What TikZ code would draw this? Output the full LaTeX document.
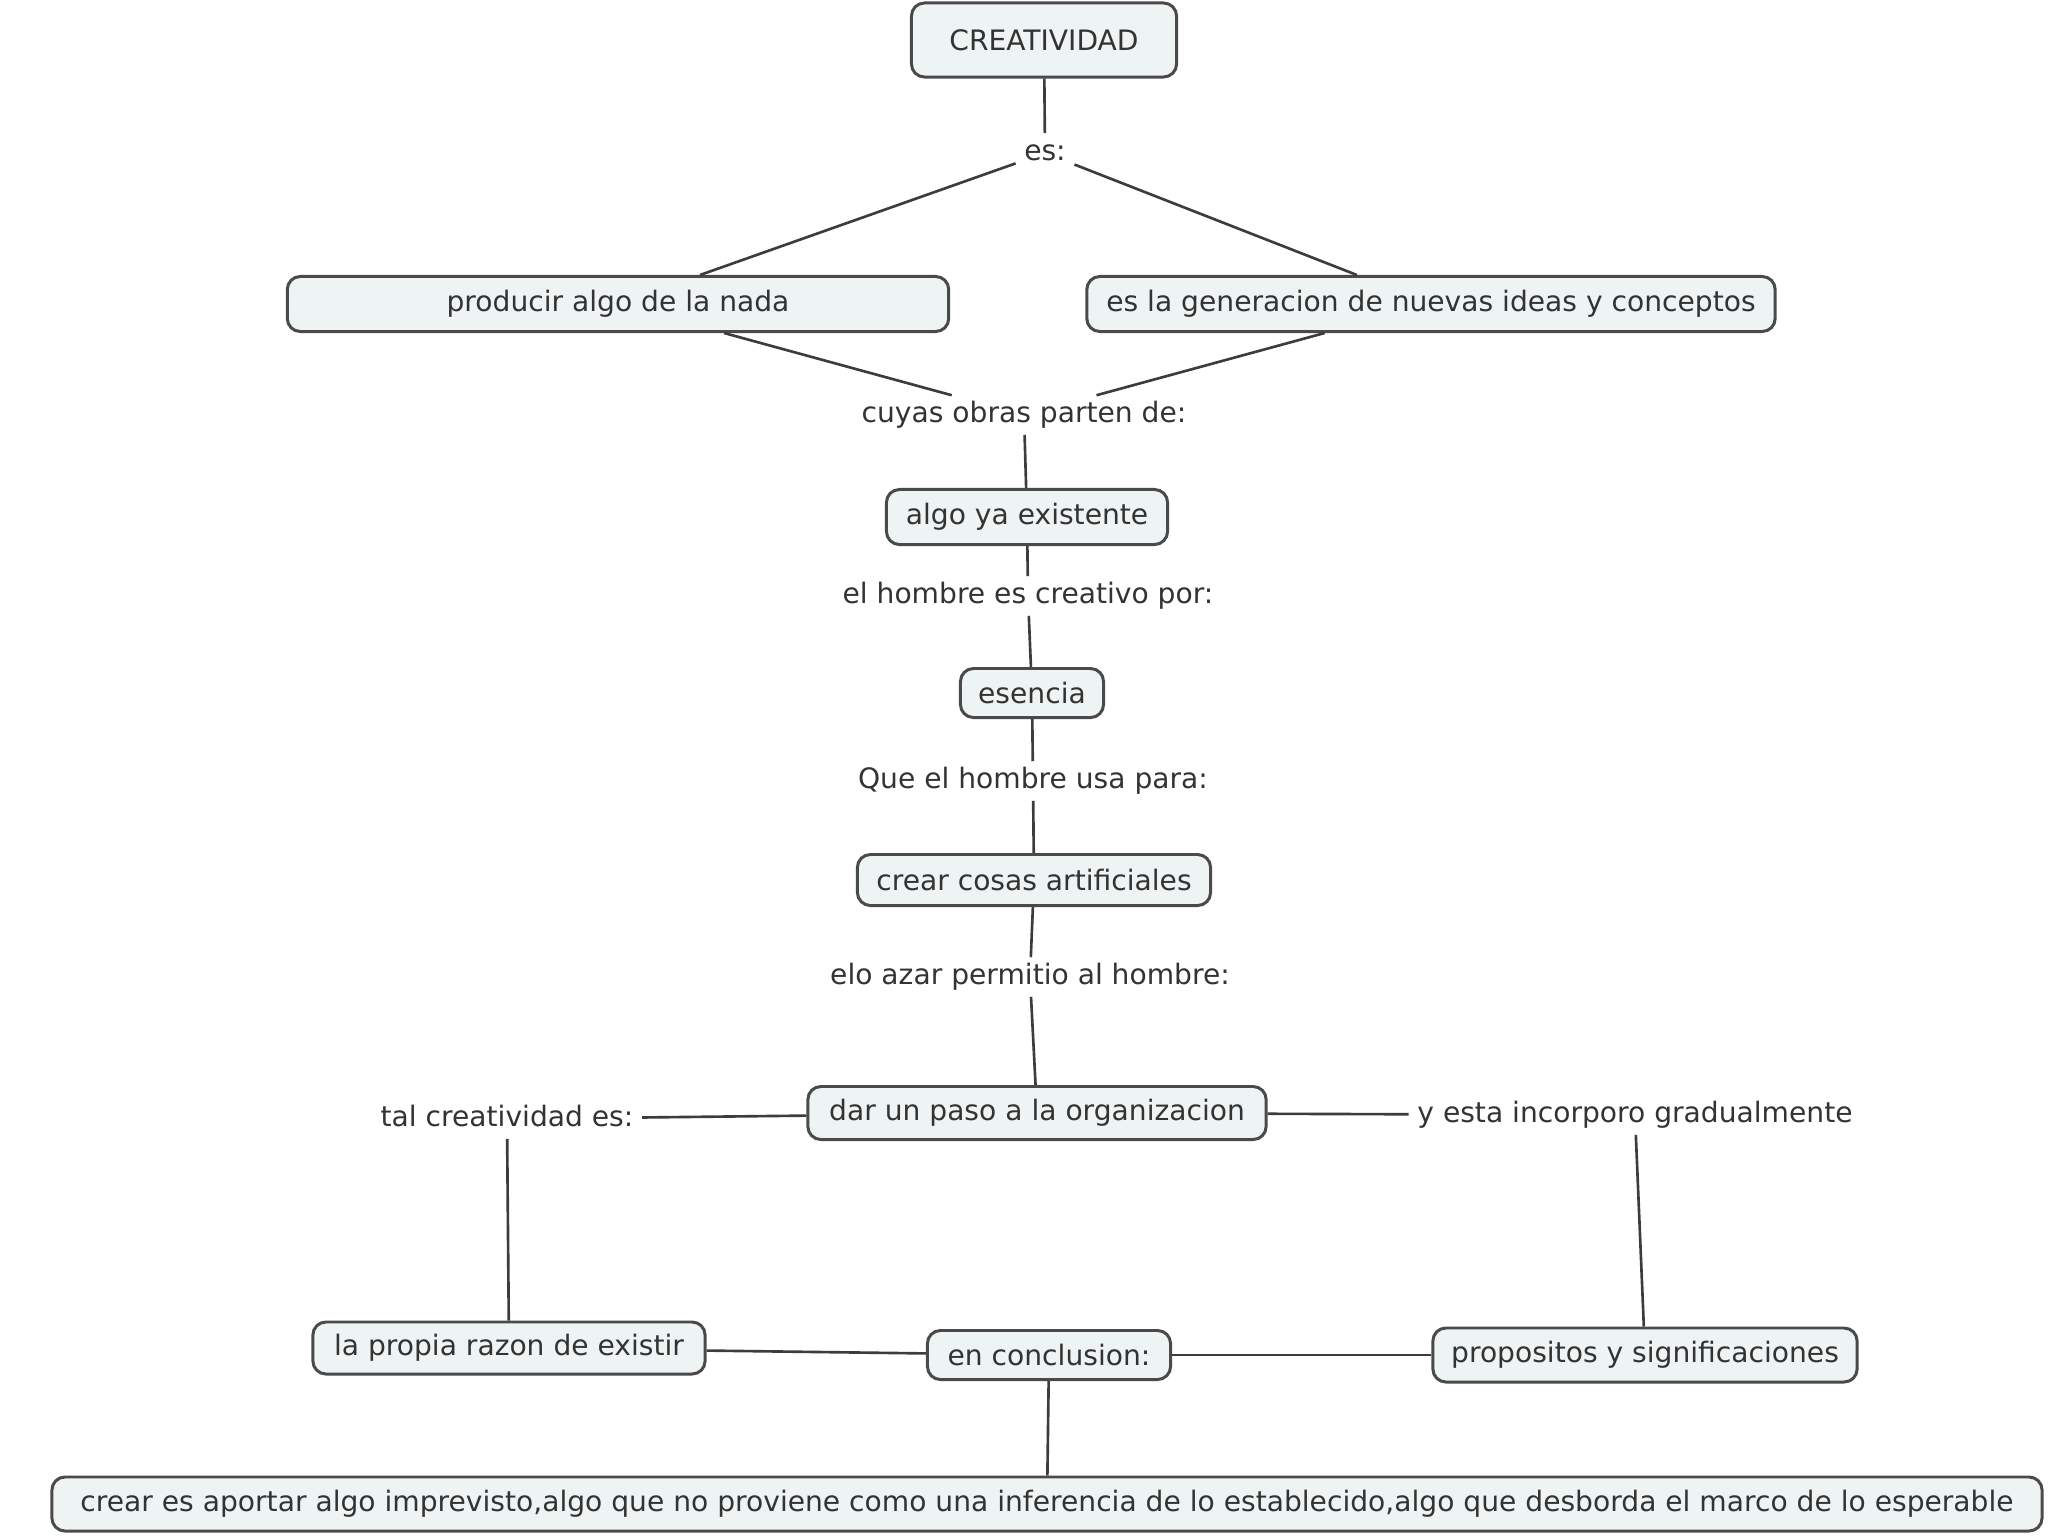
\documentclass[tikz,border=0pt]{standalone}
\usepackage{fontspec}
\setmainfont{DejaVu Sans}
\definecolor{boxfill}{HTML}{EEF3F3}
\definecolor{bordc}{HTML}{4A4A4A}
\definecolor{linec}{HTML}{3C3C3C}
\definecolor{txtc}{HTML}{333333}
\begin{document}
\begin{tikzpicture}[x=0.01cm,y=-0.01cm,
  every node/.style={font=\fontsize{8}{9.6}\selectfont, text=txtc},
  cbox/.style={draw=bordc, fill=boxfill, rounded corners=0.13cm, line width=0.85pt, inner sep=0pt},
  lbl/.style={inner xsep=0.08cm, inner ysep=0.05cm, text height=6pt, text depth=2pt},
  conn/.style={draw=linec, line width=0.75pt}]
\useasboundingbox[fill=white] (0,0) rectangle (2048,1536);

% concept boxes
\node[cbox, minimum width=2.65cm, minimum height=0.74cm] (creat) at (1044,40) {CREATIVIDAD};
\node[cbox, minimum width=6.61cm, minimum height=0.55cm] (prod) at (618,304) {producir algo de la nada};
\node[cbox, minimum width=6.88cm, minimum height=0.55cm] (gen) at (1431,304) {es la generacion de nuevas ideas y conceptos};
\node[cbox, minimum width=2.81cm, minimum height=0.55cm] (algo) at (1027,517) {algo ya existente};
\node[cbox, minimum width=1.43cm, minimum height=0.49cm] (esen) at (1032,693) {esencia};
\node[cbox, minimum width=3.53cm, minimum height=0.51cm] (crear) at (1034,880) {crear cosas artificiales};
\node[cbox, minimum width=4.58cm, minimum height=0.53cm] (dar) at (1037,1113) {dar un paso a la organizacion};
\node[cbox, minimum width=3.92cm, minimum height=0.52cm] (razon) at (509,1348) {la propia razon de existir};
\node[cbox, minimum width=2.43cm, minimum height=0.49cm] (concl) at (1049,1355) {en conclusion:};
\node[cbox, minimum width=4.24cm, minimum height=0.54cm] (prop) at (1645,1355) {propositos y significaciones};
\node[cbox, minimum width=19.89cm, minimum height=0.54cm] (final) at (1047,1504) {crear es aportar algo imprevisto,algo que no proviene como una inferencia de lo establecido,algo que desborda el marco de lo esperable};

% linking phrases
\node[lbl] (es) at (1045,153) {es:};
\node[lbl] (cuyas) at (1024,415) {cuyas obras parten de:};
\node[lbl] (hombre) at (1028,596) {el hombre es creativo por:};
\node[lbl] (usa) at (1033,781) {Que el hombre usa para:};
\node[lbl] (azar) at (1030,977) {elo azar permitio al hombre:};
\node[lbl] (tal) at (507,1119) {tal creatividad es:};
\node[lbl] (yesta) at (1635,1115) {y esta incorporo gradualmente};

% connectors
\draw[conn] (creat) -- (es);
\draw[conn] (es) -- (prod);
\draw[conn] (es) -- (gen);
\draw[conn] (prod) -- (cuyas);
\draw[conn] (gen) -- (cuyas);
\draw[conn] (cuyas) -- (algo);
\draw[conn] (algo) -- (hombre);
\draw[conn] (hombre) -- (esen);
\draw[conn] (esen) -- (usa);
\draw[conn] (usa) -- (crear);
\draw[conn] (crear) -- (azar);
\draw[conn] (azar) -- (dar);
\draw[conn] (dar) -- (tal);
\draw[conn] (dar) -- (yesta);
\draw[conn] (tal) -- (razon);
\draw[conn] (yesta) -- (prop);
\draw[conn] (razon) -- (concl);
\draw[conn] (concl) -- (prop);
\draw[conn] (concl) -- (final);
\end{tikzpicture}
\end{document}
